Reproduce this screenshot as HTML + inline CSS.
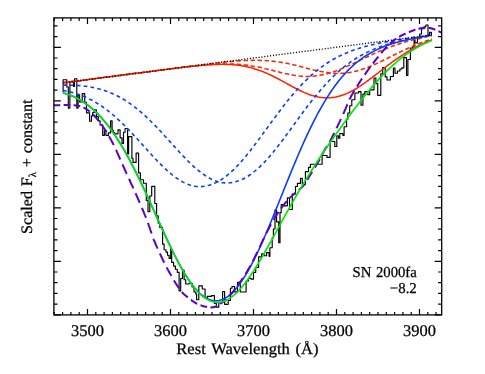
<!DOCTYPE html>
<html><head><meta charset="utf-8"><title>SN 2000fa</title>
<style>
html,body{margin:0;padding:0;background:#fff;}
svg{display:block;will-change:transform;font-family:"Liberation Serif",serif;font-size:16px;fill:#000;}
text{text-rendering:geometricPrecision;stroke:#000;stroke-width:0.25px;}
.c{fill:none;stroke-linejoin:round;}
</style></head><body>
<svg width="485" height="374" viewBox="0 0 485 374">
<rect width="485" height="374" fill="#fff"/>
<path class="c" d="M63.1 92.0 V79.7 H66.8 V87.0 H68.3 V108.1 H69.9 V81.8 H73.5 V86.4 H74.5 V78.7 H76.8 V108.1 H78.1 V95.2 H79.6 V101.9 H82.2 V93.6 H84.7 V102.2 H86.5 V112.8 H89.6 V121.2 H91.5 V115.8 H92.7 V112.5 H94.3 V109.7 H96.4 V116.5 H98.3 V120.8 H100.1 V125.0 H102.7 V135.3 H104.4 V130.4 H105.9 V135.3 H108.4 V132.9 H110.6 V120.7 H112.1 V130.4 H113.3 V132.5 H114.6 V133.8 H118.0 V129.8 H120.1 V137.8 H122.0 V143.4 H123.5 V132.2 H125.1 V128.5 H127.6 V153.9 H128.6 V136.6 H131.9 V158.2 H133.0 V162.4 H136.1 V153.1 H138.6 V172.9 H140.4 V179.7 H143.5 V183.2 H146.3 V200.4 H148.0 V211.6 H149.8 V196.0 H151.7 V186.3 H154.8 V203.5 H156.6 V215.9 H158.2 V223.2 H159.8 V227.4 H162.6 V244.1 H164.1 V249.7 H166.0 V252.1 H167.5 V255.2 H169.1 V258.3 H170.7 V249.0 H171.7 V262.4 H173.6 V266.1 H175.4 V269.2 H177.3 V272.3 H179.1 V290.8 H180.7 V278.5 H182.5 V270.4 H184.1 V279.7 H185.7 V284.0 H189.0 V283.2 H192.1 V287.0 H194.0 V292.0 H195.8 V294.0 H196.6 V299.7 H198.8 V285.9 H202.3 V289.0 H205.1 V298.0 H207.3 V296.4 H211.4 V295.6 H214.4 V303.5 H216.4 V307.1 H218.8 V302.2 H222.6 V291.5 H224.6 V304.3 H228.2 V300.5 H230.4 V288.2 H232.0 V286.5 H234.5 V291.8 H237.5 V282.4 H240.3 V292.0 H246.1 V281.0 H248.5 V278.3 H251.0 V279.1 H253.5 V272.5 H255.7 V267.5 H258.6 V256.9 H261.7 V253.8 H264.1 V255.7 H266.6 V252.6 H269.1 V256.3 H269.9 V247.7 H272.2 V237.8 H273.4 V229.0 H275.0 V210.1 H276.6 V221.9 H278.7 V242.7 H280.0 V212.6 H281.2 V204.6 H283.7 V205.8 H287.4 V197.8 H289.5 V209.5 H292.3 V194.0 H295.5 V186.5 H297.4 V183.4 H300.5 V178.4 H302.3 V184.6 H305.4 V171.6 H308.5 V167.3 H310.4 V164.2 H322.1 V155.5 H327.0 V157.4 H330.1 V141.5 H334.8 V146.5 H336.8 V135.9 H338.5 V138.2 H339.8 V133.5 H342.8 V135.3 H344.1 V126.7 H346.6 V119.2 H347.8 V113.0 H349.7 V105.7 H351.8 V99.7 H354.9 V93.0 H358.6 V91.6 H361.0 V105.2 H362.9 V94.1 H364.8 V91.6 H367.8 V94.7 H369.7 V89.8 H374.0 V78.0 H375.9 V83.6 H377.7 V95.3 H380.8 V73.7 H382.7 V67.5 H385.2 V76.8 H387.0 V80.0 H390.4 V76.5 H393.4 V68.0 H395.0 V73.2 H397.4 V71.0 H399.9 V69.0 H401.8 V67.8 H403.8 V57.6 H406.5 V75.3 H407.9 V59.5 H410.4 V48.0 H412.8 V46.6 H414.1 V39.5 H415.0 V42.9 H417.4 V38.6 H419.7 V34.0 H421.5 V28.7 H424.0 V26.8 H425.8 V25.0 H428.0 V34.9 H429.6 V32.4 H431.4 V35.5 H432.0" stroke="#000" stroke-width="1.15" stroke-linejoin="miter"/>
<path class="c" d="M63.0 82.8 L64.5 82.6 L66.0 82.4 L67.5 82.2 L69.0 82.0 L70.5 81.8 L72.0 81.6 L73.5 81.4 L75.0 81.2 L76.5 81.0 L78.0 80.9 L79.5 80.7 L81.0 80.5 L82.5 80.3 L84.0 80.1 L85.5 79.9 L87.0 79.7 L88.5 79.5 L90.0 79.3 L91.5 79.1 L93.0 78.9 L94.5 78.7 L96.0 78.5 L97.5 78.3 L99.0 78.1 L100.5 77.9 L102.0 77.7 L103.5 77.5 L105.0 77.3 L106.5 77.1 L108.0 77.0 L109.5 76.8 L111.0 76.6 L112.5 76.4 L114.0 76.2 L115.5 76.0 L117.0 75.8 L118.5 75.6 L120.0 75.4 L121.5 75.2 L123.0 75.0 L124.5 74.8 L126.0 74.6 L127.5 74.4 L129.0 74.2 L130.5 74.0 L132.0 73.8 L133.5 73.6 L135.0 73.4 L136.5 73.2 L138.0 73.1 L139.5 72.9 L141.0 72.7 L142.5 72.5 L144.0 72.3 L145.5 72.1 L147.0 71.9 L148.5 71.7 L150.0 71.5 L151.5 71.3 L153.0 71.1 L154.5 70.9 L156.0 70.7 L157.5 70.5 L159.0 70.3 L160.5 70.1 L162.0 69.9 L163.5 69.7 L165.0 69.5 L166.5 69.3 L168.0 69.2 L169.5 69.0 L171.0 68.8 L172.5 68.6 L174.0 68.4 L175.5 68.2 L177.0 68.0 L178.5 67.8 L180.0 67.6 L181.5 67.4 L183.0 67.2 L184.5 67.0 L186.0 66.8 L187.5 66.6 L189.0 66.4 L190.5 66.3 L192.0 66.1 L193.5 65.9 L195.0 65.7 L196.5 65.5 L198.0 65.3 L199.5 65.1 L201.0 64.9 L202.5 64.7 L204.0 64.6 L205.5 64.4 L207.0 64.2 L208.5 64.0 L210.0 63.8 L211.5 63.6 L213.0 63.5 L214.5 63.3 L216.0 63.1 L217.5 62.9 L219.0 62.8 L220.5 62.6 L222.0 62.5 L223.5 62.3 L225.0 62.1 L226.5 62.0 L228.0 61.8 L229.5 61.7 L231.0 61.6 L232.5 61.4 L234.0 61.3 L235.5 61.2 L237.0 61.1 L238.5 60.9 L240.0 60.8 L241.5 60.7 L243.0 60.7 L244.5 60.6 L246.0 60.5 L247.5 60.4 L249.0 60.4 L250.5 60.4 L252.0 60.3 L253.5 60.3 L255.0 60.3 L256.5 60.3 L258.0 60.3 L259.5 60.3 L261.0 60.4 L262.5 60.4 L264.0 60.5 L265.5 60.6 L267.0 60.7 L268.5 60.8 L270.0 60.9 L271.5 61.1 L273.0 61.2 L274.5 61.4 L276.0 61.6 L277.5 61.8 L279.0 62.0 L280.5 62.2 L282.0 62.5 L283.5 62.7 L285.0 63.0 L286.5 63.3 L288.0 63.6 L289.5 63.9 L291.0 64.3 L292.5 64.6 L294.0 64.9 L295.5 65.3 L297.0 65.7 L298.5 66.0 L300.0 66.4 L301.5 66.8 L303.0 67.2 L304.5 67.6 L306.0 68.0 L307.5 68.4 L309.0 68.8 L310.5 69.1 L312.0 69.5 L313.5 69.9 L315.0 70.2 L316.5 70.6 L318.0 70.9 L319.5 71.2 L321.0 71.6 L322.5 71.8 L324.0 72.1 L325.5 72.4 L327.0 72.6 L328.5 72.8 L330.0 73.0 L331.5 73.1 L333.0 73.2 L334.5 73.3 L336.0 73.4 L337.5 73.4 L339.0 73.4 L340.5 73.4 L342.0 73.3 L343.5 73.2 L345.0 73.1 L346.5 72.9 L348.0 72.7 L349.5 72.5 L351.0 72.2 L352.5 72.0 L354.0 71.6 L355.5 71.3 L357.0 70.9 L358.5 70.5 L360.0 70.0 L361.5 69.6 L363.0 69.1 L364.5 68.6 L366.0 68.0 L367.5 67.4 L369.0 66.8 L370.5 66.2 L372.0 65.6 L373.5 65.0 L375.0 64.3 L376.5 63.6 L378.0 62.9 L379.5 62.2 L381.0 61.5 L382.5 60.8 L384.0 60.0 L385.5 59.3 L387.0 58.5 L388.5 57.8 L390.0 57.0 L391.5 56.3 L393.0 55.5 L394.5 54.8 L396.0 54.0 L397.5 53.3 L399.0 52.5 L400.5 51.8 L402.0 51.1 L403.5 50.4 L405.0 49.7 L406.5 49.0 L408.0 48.3 L409.5 47.6 L411.0 46.9 L412.5 46.3 L414.0 45.6 L415.5 45.0 L417.0 44.4 L418.5 43.8 L420.0 43.2 L421.5 42.6 L423.0 42.1 L424.5 41.5 L426.0 41.0 L427.5 40.5 L429.0 40.0 L430.5 39.5 L432.0 39.0" stroke="#ff2200" stroke-width="1.55" stroke-dasharray="4.4 2.6"/>
<path class="c" d="M63.0 82.8 L64.5 82.6 L66.0 82.4 L67.5 82.2 L69.0 82.0 L70.5 81.8 L72.0 81.6 L73.5 81.4 L75.0 81.2 L76.5 81.0 L78.0 80.9 L79.5 80.7 L81.0 80.5 L82.5 80.3 L84.0 80.1 L85.5 79.9 L87.0 79.7 L88.5 79.5 L90.0 79.3 L91.5 79.1 L93.0 78.9 L94.5 78.7 L96.0 78.5 L97.5 78.3 L99.0 78.1 L100.5 77.9 L102.0 77.7 L103.5 77.5 L105.0 77.3 L106.5 77.1 L108.0 77.0 L109.5 76.8 L111.0 76.6 L112.5 76.4 L114.0 76.2 L115.5 76.0 L117.0 75.8 L118.5 75.6 L120.0 75.4 L121.5 75.2 L123.0 75.0 L124.5 74.8 L126.0 74.6 L127.5 74.4 L129.0 74.2 L130.5 74.0 L132.0 73.8 L133.5 73.6 L135.0 73.4 L136.5 73.2 L138.0 73.1 L139.5 72.9 L141.0 72.7 L142.5 72.5 L144.0 72.3 L145.5 72.1 L147.0 71.9 L148.5 71.7 L150.0 71.5 L151.5 71.3 L153.0 71.1 L154.5 70.9 L156.0 70.7 L157.5 70.5 L159.0 70.3 L160.5 70.1 L162.0 70.0 L163.5 69.8 L165.0 69.6 L166.5 69.4 L168.0 69.2 L169.5 69.0 L171.0 68.8 L172.5 68.6 L174.0 68.4 L175.5 68.2 L177.0 68.1 L178.5 67.9 L180.0 67.7 L181.5 67.5 L183.0 67.3 L184.5 67.2 L186.0 67.0 L187.5 66.8 L189.0 66.6 L190.5 66.5 L192.0 66.3 L193.5 66.1 L195.0 66.0 L196.5 65.8 L198.0 65.7 L199.5 65.5 L201.0 65.4 L202.5 65.2 L204.0 65.1 L205.5 65.0 L207.0 64.8 L208.5 64.7 L210.0 64.6 L211.5 64.5 L213.0 64.4 L214.5 64.3 L216.0 64.2 L217.5 64.2 L219.0 64.1 L220.5 64.1 L222.0 64.0 L223.5 64.0 L225.0 64.0 L226.5 63.9 L228.0 63.9 L229.5 64.0 L231.0 64.0 L232.5 64.0 L234.0 64.1 L235.5 64.2 L237.0 64.2 L238.5 64.3 L240.0 64.5 L241.5 64.6 L243.0 64.7 L244.5 64.9 L246.0 65.1 L247.5 65.3 L249.0 65.5 L250.5 65.7 L252.0 65.9 L253.5 66.2 L255.0 66.4 L256.5 66.7 L258.0 67.0 L259.5 67.3 L261.0 67.6 L262.5 68.0 L264.0 68.3 L265.5 68.7 L267.0 69.0 L268.5 69.4 L270.0 69.7 L271.5 70.1 L273.0 70.5 L274.5 70.9 L276.0 71.3 L277.5 71.6 L279.0 72.0 L280.5 72.4 L282.0 72.8 L283.5 73.1 L285.0 73.5 L286.5 73.8 L288.0 74.1 L289.5 74.5 L291.0 74.7 L292.5 75.0 L294.0 75.3 L295.5 75.5 L297.0 75.7 L298.5 75.9 L300.0 76.1 L301.5 76.2 L303.0 76.3 L304.5 76.4 L306.0 76.4 L307.5 76.5 L309.0 76.4 L310.5 76.4 L312.0 76.3 L313.5 76.2 L315.0 76.0 L316.5 75.8 L318.0 75.6 L319.5 75.4 L321.0 75.1 L322.5 74.8 L324.0 74.5 L325.5 74.1 L327.0 73.7 L328.5 73.3 L330.0 72.9 L331.5 72.4 L333.0 71.9 L334.5 71.4 L336.0 70.9 L337.5 70.3 L339.0 69.7 L340.5 69.1 L342.0 68.5 L343.5 67.9 L345.0 67.3 L346.5 66.6 L348.0 65.9 L349.5 65.3 L351.0 64.6 L352.5 63.9 L354.0 63.2 L355.5 62.5 L357.0 61.7 L358.5 61.0 L360.0 60.3 L361.5 59.6 L363.0 58.9 L364.5 58.2 L366.0 57.4 L367.5 56.7 L369.0 56.0 L370.5 55.3 L372.0 54.6 L373.5 53.9 L375.0 53.2 L376.5 52.6 L378.0 51.9 L379.5 51.3 L381.0 50.6 L382.5 50.0 L384.0 49.4 L385.5 48.8 L387.0 48.2 L388.5 47.6 L390.0 47.0 L391.5 46.5 L393.0 45.9 L394.5 45.4 L396.0 44.9 L397.5 44.4 L399.0 43.9 L400.5 43.4 L402.0 42.9 L403.5 42.5 L405.0 42.0 L406.5 41.6 L408.0 41.2 L409.5 40.8 L411.0 40.4 L412.5 40.0 L414.0 39.6 L415.5 39.2 L417.0 38.9 L418.5 38.5 L420.0 38.2 L421.5 37.9 L423.0 37.5 L424.5 37.2 L426.0 36.9 L427.5 36.6 L429.0 36.3 L430.5 36.0 L432.0 35.8" stroke="#ff2200" stroke-width="1.55" stroke-dasharray="4.4 2.6"/>
<path class="c" d="M63.0 82.8 L64.5 82.6 L66.0 82.4 L67.5 82.2 L69.0 82.0 L70.5 81.8 L72.0 81.6 L73.5 81.4 L75.0 81.2 L76.5 81.0 L78.0 80.9 L79.5 80.7 L81.0 80.5 L82.5 80.3 L84.0 80.1 L85.5 79.9 L87.0 79.7 L88.5 79.5 L90.0 79.3 L91.5 79.1 L93.0 78.9 L94.5 78.7 L96.0 78.5 L97.5 78.3 L99.0 78.1 L100.5 77.9 L102.0 77.7 L103.5 77.5 L105.0 77.3 L106.5 77.1 L108.0 77.0 L109.5 76.8 L111.0 76.6 L112.5 76.4 L114.0 76.2 L115.5 76.0 L117.0 75.8 L118.5 75.6 L120.0 75.4 L121.5 75.2 L123.0 75.0 L124.5 74.8 L126.0 74.6 L127.5 74.4 L129.0 74.2 L130.5 74.0 L132.0 73.8 L133.5 73.6 L135.0 73.4 L136.5 73.2 L138.0 73.1 L139.5 72.9 L141.0 72.7 L142.5 72.5 L144.0 72.3 L145.5 72.1 L147.0 71.9 L148.5 71.7 L150.0 71.5 L151.5 71.3 L153.0 71.1 L154.5 70.9 L156.0 70.7 L157.5 70.5 L159.0 70.3 L160.5 70.1 L162.0 70.0 L163.5 69.8 L165.0 69.6 L166.5 69.4 L168.0 69.2 L169.5 69.0 L171.0 68.8 L172.5 68.6 L174.0 68.4 L175.5 68.3 L177.0 68.1 L178.5 67.9 L180.0 67.7 L181.5 67.5 L183.0 67.3 L184.5 67.2 L186.0 67.0 L187.5 66.8 L189.0 66.7 L190.5 66.5 L192.0 66.3 L193.5 66.2 L195.0 66.0 L196.5 65.9 L198.0 65.7 L199.5 65.6 L201.0 65.4 L202.5 65.3 L204.0 65.2 L205.5 65.1 L207.0 64.9 L208.5 64.8 L210.0 64.7 L211.5 64.7 L213.0 64.6 L214.5 64.5 L216.0 64.4 L217.5 64.4 L219.0 64.4 L220.5 64.3 L222.0 64.3 L223.5 64.3 L225.0 64.4 L226.5 64.4 L228.0 64.4 L229.5 64.5 L231.0 64.6 L232.5 64.7 L234.0 64.8 L235.5 65.0 L237.0 65.1 L238.5 65.3 L240.0 65.5 L241.5 65.7 L243.0 66.0 L244.5 66.3 L246.0 66.6 L247.5 66.9 L249.0 67.2 L250.5 67.6 L252.0 68.0 L253.5 68.4 L255.0 68.9 L256.5 69.4 L258.0 69.9 L259.5 70.4 L261.0 71.0 L262.5 71.5 L264.0 72.1 L265.5 72.8 L267.0 73.4 L268.5 74.1 L270.0 74.8 L271.5 75.5 L273.0 76.2 L274.5 77.0 L276.0 77.7 L277.5 78.5 L279.0 79.3 L280.5 80.1 L282.0 80.9 L283.5 81.7 L285.0 82.6 L286.5 83.4 L288.0 84.2 L289.5 85.0 L291.0 85.8 L292.5 86.7 L294.0 87.5 L295.5 88.3 L297.0 89.0 L298.5 89.8 L300.0 90.5 L301.5 91.2 L303.0 91.9 L304.5 92.6 L306.0 93.2 L307.5 93.8 L309.0 94.4 L310.5 94.9 L312.0 95.4 L313.5 95.8 L315.0 96.2 L316.5 96.6 L318.0 96.9 L319.5 97.2 L321.0 97.4 L322.5 97.6 L324.0 97.7 L325.5 97.8 L327.0 97.8 L328.5 97.8 L330.0 97.7 L331.5 97.6 L333.0 97.5 L334.5 97.2 L336.0 97.0 L337.5 96.6 L339.0 96.3 L340.5 95.8 L342.0 95.3 L343.5 94.8 L345.0 94.2 L346.5 93.6 L348.0 92.9 L349.5 92.2 L351.0 91.5 L352.5 90.7 L354.0 89.8 L355.5 89.0 L357.0 88.1 L358.5 87.1 L360.0 86.2 L361.5 85.2 L363.0 84.1 L364.5 83.1 L366.0 82.0 L367.5 80.9 L369.0 79.8 L370.5 78.7 L372.0 77.6 L373.5 76.4 L375.0 75.3 L376.5 74.1 L378.0 73.0 L379.5 71.8 L381.0 70.7 L382.5 69.5 L384.0 68.3 L385.5 67.2 L387.0 66.0 L388.5 64.9 L390.0 63.8 L391.5 62.6 L393.0 61.5 L394.5 60.5 L396.0 59.4 L397.5 58.3 L399.0 57.3 L400.5 56.3 L402.0 55.3 L403.5 54.3 L405.0 53.3 L406.5 52.4 L408.0 51.5 L409.5 50.6 L411.0 49.7 L412.5 48.9 L414.0 48.1 L415.5 47.3 L417.0 46.5 L418.5 45.7 L420.0 45.0 L421.5 44.3 L423.0 43.6 L424.5 42.9 L426.0 42.3 L427.5 41.7 L429.0 41.1 L430.5 40.5 L432.0 39.9" stroke="#ff2200" stroke-width="1.55"/>
<path class="c" d="M63.0 90.4 L64.5 90.7 L66.0 91.0 L67.5 91.3 L69.0 91.6 L70.5 92.0 L72.0 92.4 L73.5 92.8 L75.0 93.2 L76.5 93.7 L78.0 94.2 L79.5 94.7 L81.0 95.3 L82.5 95.9 L84.0 96.5 L85.5 97.1 L87.0 97.8 L88.5 98.5 L90.0 99.3 L91.5 100.0 L93.0 100.8 L94.5 101.7 L96.0 102.6 L97.5 103.5 L99.0 104.4 L100.5 105.4 L102.0 106.4 L103.5 107.5 L105.0 108.6 L106.5 109.7 L108.0 110.8 L109.5 112.0 L111.0 113.2 L112.5 114.5 L114.0 115.7 L115.5 117.1 L117.0 118.4 L118.5 119.8 L120.0 121.2 L121.5 122.6 L123.0 124.1 L124.5 125.5 L126.0 127.0 L127.5 128.6 L129.0 130.1 L130.5 131.7 L132.0 133.3 L133.5 134.9 L135.0 136.5 L136.5 138.1 L138.0 139.8 L139.5 141.4 L141.0 143.1 L142.5 144.7 L144.0 146.4 L145.5 148.1 L147.0 149.7 L148.5 151.4 L150.0 153.0 L151.5 154.7 L153.0 156.3 L154.5 157.9 L156.0 159.5 L157.5 161.1 L159.0 162.6 L160.5 164.1 L162.0 165.6 L163.5 167.1 L165.0 168.5 L166.5 169.9 L168.0 171.2 L169.5 172.6 L171.0 173.8 L172.5 175.0 L174.0 176.2 L175.5 177.3 L177.0 178.4 L178.5 179.4 L180.0 180.4 L181.5 181.2 L183.0 182.1 L184.5 182.8 L186.0 183.5 L187.5 184.2 L189.0 184.7 L190.5 185.2 L192.0 185.6 L193.5 186.0 L195.0 186.3 L196.5 186.5 L198.0 186.6 L199.5 186.6 L201.0 186.6 L202.5 186.5 L204.0 186.3 L205.5 186.1 L207.0 185.8 L208.5 185.4 L210.0 185.0 L211.5 184.5 L213.0 183.9 L214.5 183.3 L216.0 182.6 L217.5 181.8 L219.0 181.0 L220.5 180.1 L222.0 179.2 L223.5 178.1 L225.0 177.1 L226.5 175.9 L228.0 174.7 L229.5 173.4 L231.0 172.1 L232.5 170.7 L234.0 169.3 L235.5 167.8 L237.0 166.2 L238.5 164.6 L240.0 163.0 L241.5 161.3 L243.0 159.6 L244.5 157.8 L246.0 156.0 L247.5 154.1 L249.0 152.3 L250.5 150.4 L252.0 148.4 L253.5 146.5 L255.0 144.5 L256.5 142.5 L258.0 140.5 L259.5 138.5 L261.0 136.4 L262.5 134.4 L264.0 132.3 L265.5 130.2 L267.0 128.2 L268.5 126.1 L270.0 124.1 L271.5 122.0 L273.0 120.0 L274.5 117.9 L276.0 115.9 L277.5 113.9 L279.0 111.9 L280.5 109.9 L282.0 108.0 L283.5 106.0 L285.0 104.1 L286.5 102.2 L288.0 100.3 L289.5 98.5 L291.0 96.7 L292.5 94.9 L294.0 93.2 L295.5 91.4 L297.0 89.8 L298.5 88.1 L300.0 86.5 L301.5 84.9 L303.0 83.3 L304.5 81.8 L306.0 80.3 L307.5 78.9 L309.0 77.5 L310.5 76.1 L312.0 74.7 L313.5 73.4 L315.0 72.2 L316.5 70.9 L318.0 69.7 L319.5 68.6 L321.0 67.4 L322.5 66.3 L324.0 65.3 L325.5 64.2 L327.0 63.2 L328.5 62.3 L330.0 61.3 L331.5 60.4 L333.0 59.5 L334.5 58.7 L336.0 57.9 L337.5 57.1 L339.0 56.3 L340.5 55.6 L342.0 54.9 L343.5 54.2 L345.0 53.5 L346.5 52.9 L348.0 52.3 L349.5 51.7 L351.0 51.1 L352.5 50.5 L354.0 50.0 L355.5 49.5 L357.0 49.0 L358.5 48.5 L360.0 48.0 L361.5 47.6 L363.0 47.1 L364.5 46.7 L366.0 46.3 L367.5 45.9 L369.0 45.5 L370.5 45.1 L372.0 44.8 L373.5 44.4 L375.0 44.1 L376.5 43.8 L378.0 43.4 L379.5 43.1 L381.0 42.8 L382.5 42.5 L384.0 42.2 L385.5 41.9 L387.0 41.7 L388.5 41.4 L390.0 41.1 L391.5 40.9 L393.0 40.6 L394.5 40.4 L396.0 40.1 L397.5 39.9 L399.0 39.6 L400.5 39.4 L402.0 39.1 L403.5 38.9 L405.0 38.7 L406.5 38.5 L408.0 38.2 L409.5 38.0 L411.0 37.8 L412.5 37.6 L414.0 37.4 L415.5 37.2 L417.0 36.9 L418.5 36.7 L420.0 36.5 L421.5 36.3 L423.0 36.1 L424.5 35.9 L426.0 35.7 L427.5 35.5 L429.0 35.3 L430.5 35.1 L432.0 34.9" stroke="#0a3cff" stroke-width="1.6" stroke-dasharray="3.7 3.2"/>
<path class="c" d="M63.0 85.2 L64.5 85.1 L66.0 85.1 L67.5 85.1 L69.0 85.1 L70.5 85.2 L72.0 85.2 L73.5 85.3 L75.0 85.3 L76.5 85.4 L78.0 85.5 L79.5 85.6 L81.0 85.7 L82.5 85.9 L84.0 86.1 L85.5 86.2 L87.0 86.4 L88.5 86.7 L90.0 86.9 L91.5 87.2 L93.0 87.5 L94.5 87.8 L96.0 88.1 L97.5 88.5 L99.0 88.9 L100.5 89.3 L102.0 89.7 L103.5 90.2 L105.0 90.7 L106.5 91.2 L108.0 91.8 L109.5 92.3 L111.0 93.0 L112.5 93.6 L114.0 94.3 L115.5 95.0 L117.0 95.7 L118.5 96.5 L120.0 97.3 L121.5 98.2 L123.0 99.0 L124.5 99.9 L126.0 100.9 L127.5 101.9 L129.0 102.9 L130.5 103.9 L132.0 105.0 L133.5 106.1 L135.0 107.3 L136.5 108.4 L138.0 109.7 L139.5 110.9 L141.0 112.2 L142.5 113.5 L144.0 114.8 L145.5 116.2 L147.0 117.6 L148.5 119.0 L150.0 120.5 L151.5 122.0 L153.0 123.5 L154.5 125.0 L156.0 126.5 L157.5 128.1 L159.0 129.7 L160.5 131.3 L162.0 132.9 L163.5 134.5 L165.0 136.2 L166.5 137.8 L168.0 139.5 L169.5 141.1 L171.0 142.8 L172.5 144.5 L174.0 146.1 L175.5 147.8 L177.0 149.4 L178.5 151.0 L180.0 152.7 L181.5 154.3 L183.0 155.9 L184.5 157.4 L186.0 159.0 L187.5 160.5 L189.0 162.0 L190.5 163.4 L192.0 164.9 L193.5 166.3 L195.0 167.6 L196.5 168.9 L198.0 170.2 L199.5 171.4 L201.0 172.6 L202.5 173.7 L204.0 174.7 L205.5 175.8 L207.0 176.7 L208.5 177.6 L210.0 178.4 L211.5 179.2 L213.0 179.9 L214.5 180.5 L216.0 181.1 L217.5 181.6 L219.0 182.0 L220.5 182.3 L222.0 182.6 L223.5 182.8 L225.0 182.9 L226.5 183.0 L228.0 182.9 L229.5 182.8 L231.0 182.7 L232.5 182.4 L234.0 182.1 L235.5 181.8 L237.0 181.3 L238.5 180.8 L240.0 180.3 L241.5 179.6 L243.0 179.0 L244.5 178.2 L246.0 177.4 L247.5 176.5 L249.0 175.5 L250.5 174.5 L252.0 173.4 L253.5 172.2 L255.0 171.0 L256.5 169.8 L258.0 168.4 L259.5 167.1 L261.0 165.6 L262.5 164.1 L264.0 162.6 L265.5 161.0 L267.0 159.3 L268.5 157.7 L270.0 155.9 L271.5 154.2 L273.0 152.4 L274.5 150.5 L276.0 148.6 L277.5 146.7 L279.0 144.8 L280.5 142.9 L282.0 140.9 L283.5 138.9 L285.0 136.9 L286.5 134.8 L288.0 132.8 L289.5 130.8 L291.0 128.7 L292.5 126.6 L294.0 124.6 L295.5 122.5 L297.0 120.5 L298.5 118.4 L300.0 116.4 L301.5 114.3 L303.0 112.3 L304.5 110.3 L306.0 108.3 L307.5 106.3 L309.0 104.4 L310.5 102.4 L312.0 100.5 L313.5 98.6 L315.0 96.8 L316.5 94.9 L318.0 93.1 L319.5 91.4 L321.0 89.6 L322.5 87.9 L324.0 86.2 L325.5 84.5 L327.0 82.9 L328.5 81.3 L330.0 79.8 L331.5 78.3 L333.0 76.8 L334.5 75.3 L336.0 73.9 L337.5 72.5 L339.0 71.2 L340.5 69.9 L342.0 68.6 L343.5 67.4 L345.0 66.2 L346.5 65.0 L348.0 63.9 L349.5 62.8 L351.0 61.7 L352.5 60.7 L354.0 59.7 L355.5 58.7 L357.0 57.8 L358.5 56.9 L360.0 56.0 L361.5 55.2 L363.0 54.4 L364.5 53.6 L366.0 52.8 L367.5 52.1 L369.0 51.4 L370.5 50.7 L372.0 50.0 L373.5 49.4 L375.0 48.7 L376.5 48.1 L378.0 47.6 L379.5 47.0 L381.0 46.5 L382.5 46.0 L384.0 45.5 L385.5 45.0 L387.0 44.5 L388.5 44.1 L390.0 43.6 L391.5 43.2 L393.0 42.8 L394.5 42.4 L396.0 42.0 L397.5 41.6 L399.0 41.3 L400.5 40.9 L402.0 40.6 L403.5 40.2 L405.0 39.9 L406.5 39.6 L408.0 39.3 L409.5 39.0 L411.0 38.7 L412.5 38.4 L414.0 38.2 L415.5 37.9 L417.0 37.6 L418.5 37.3 L420.0 37.1 L421.5 36.8 L423.0 36.6 L424.5 36.3 L426.0 36.1 L427.5 35.9 L429.0 35.6 L430.5 35.4 L432.0 35.2" stroke="#0a3cff" stroke-width="1.6" stroke-dasharray="3.7 3.2"/>
<path class="c" d="M63.0 92.8 L64.5 93.2 L66.0 93.7 L67.5 94.2 L69.0 94.8 L70.5 95.3 L72.0 96.0 L73.5 96.6 L75.0 97.3 L76.5 98.1 L78.0 98.9 L79.5 99.7 L81.0 100.6 L82.5 101.5 L84.0 102.5 L85.5 103.5 L87.0 104.6 L88.5 105.7 L90.0 106.9 L91.5 108.1 L93.0 109.4 L94.5 110.8 L96.0 112.2 L97.5 113.6 L99.0 115.2 L100.5 116.8 L102.0 118.4 L103.5 120.1 L105.0 121.9 L106.5 123.7 L108.0 125.6 L109.5 127.6 L111.0 129.6 L112.5 131.7 L114.0 133.9 L115.5 136.1 L117.0 138.4 L118.5 140.7 L120.0 143.1 L121.5 145.6 L123.0 148.1 L124.5 150.7 L126.0 153.3 L127.5 156.0 L129.0 158.8 L130.5 161.6 L132.0 164.5 L133.5 167.4 L135.0 170.3 L136.5 173.3 L138.0 176.4 L139.5 179.5 L141.0 182.6 L142.5 185.8 L144.0 189.0 L145.5 192.2 L147.0 195.5 L148.5 198.7 L150.0 202.0 L151.5 205.3 L153.0 208.7 L154.5 212.0 L156.0 215.3 L157.5 218.6 L159.0 222.0 L160.5 225.3 L162.0 228.6 L163.5 231.9 L165.0 235.1 L166.5 238.4 L168.0 241.6 L169.5 244.7 L171.0 247.9 L172.5 250.9 L174.0 254.0 L175.5 256.9 L177.0 259.8 L178.5 262.7 L180.0 265.4 L181.5 268.1 L183.0 270.7 L184.5 273.3 L186.0 275.7 L187.5 278.0 L189.0 280.3 L190.5 282.4 L192.0 284.5 L193.5 286.4 L195.0 288.2 L196.5 289.9 L198.0 291.5 L199.5 293.0 L201.0 294.3 L202.5 295.5 L204.0 296.6 L205.5 297.6 L207.0 298.4 L208.5 299.1 L210.0 299.7 L211.5 300.2 L213.0 300.5 L214.5 300.7 L216.0 300.8 L217.5 300.7 L219.0 300.5 L220.5 300.1 L222.0 299.6 L223.5 299.0 L225.0 298.2 L226.5 297.3 L228.0 296.3 L229.5 295.1 L231.0 293.8 L232.5 292.4 L234.0 290.8 L235.5 289.1 L237.0 287.4 L238.5 285.5 L240.0 283.5 L241.5 281.3 L243.0 279.1 L244.5 276.8 L246.0 274.3 L247.5 271.8 L249.0 269.2 L250.5 266.4 L252.0 263.6 L253.5 260.7 L255.0 257.7 L256.5 254.6 L258.0 251.5 L259.5 248.3 L261.0 245.0 L262.5 241.6 L264.0 238.2 L265.5 234.7 L267.0 231.2 L268.5 227.7 L270.0 224.1 L271.5 220.5 L273.0 216.8 L274.5 213.1 L276.0 209.4 L277.5 205.7 L279.0 202.0 L280.5 198.2 L282.0 194.5 L283.5 190.8 L285.0 187.0 L286.5 183.3 L288.0 179.6 L289.5 175.9 L291.0 172.2 L292.5 168.6 L294.0 165.0 L295.5 161.4 L297.0 157.8 L298.5 154.3 L300.0 150.9 L301.5 147.4 L303.0 144.0 L304.5 140.7 L306.0 137.4 L307.5 134.2 L309.0 131.0 L310.5 127.9 L312.0 124.8 L313.5 121.8 L315.0 118.9 L316.5 116.0 L318.0 113.2 L319.5 110.5 L321.0 107.8 L322.5 105.2 L324.0 102.6 L325.5 100.1 L327.0 97.7 L328.5 95.3 L330.0 93.0 L331.5 90.8 L333.0 88.6 L334.5 86.5 L336.0 84.5 L337.5 82.5 L339.0 80.6 L340.5 78.8 L342.0 77.0 L343.5 75.2 L345.0 73.6 L346.5 72.0 L348.0 70.4 L349.5 68.9 L351.0 67.5 L352.5 66.1 L354.0 64.7 L355.5 63.4 L357.0 62.2 L358.5 61.0 L360.0 59.9 L361.5 58.8 L363.0 57.7 L364.5 56.7 L366.0 55.7 L367.5 54.8 L369.0 53.9 L370.5 53.0 L372.0 52.2 L373.5 51.4 L375.0 50.6 L376.5 49.9 L378.0 49.2 L379.5 48.5 L381.0 47.8 L382.5 47.2 L384.0 46.6 L385.5 46.0 L387.0 45.5 L388.5 45.0 L390.0 44.5 L391.5 44.0 L393.0 43.5 L394.5 43.0 L396.0 42.6 L397.5 42.2 L399.0 41.8 L400.5 41.4 L402.0 41.0 L403.5 40.6 L405.0 40.3 L406.5 39.9 L408.0 39.6 L409.5 39.3 L411.0 39.0 L412.5 38.6 L414.0 38.4 L415.5 38.1 L417.0 37.8 L418.5 37.5 L420.0 37.2 L421.5 37.0 L423.0 36.7 L424.5 36.4 L426.0 36.2 L427.5 36.0 L429.0 35.7 L430.5 35.5 L432.0 35.2" stroke="#0a3cff" stroke-width="1.6"/>
<path class="c" d="M63.0 82.8 L64.5 82.6 L66.0 82.4 L67.5 82.2 L69.0 82.0 L70.5 81.8 L72.0 81.6 L73.5 81.4 L75.0 81.2 L76.5 81.0 L78.0 80.8 L79.5 80.7 L81.0 80.5 L82.5 80.3 L84.0 80.1 L85.5 79.9 L87.0 79.7 L88.5 79.5 L90.0 79.3 L91.5 79.1 L93.0 78.9 L94.5 78.7 L96.0 78.5 L97.5 78.3 L99.0 78.1 L100.5 77.9 L102.0 77.7 L103.5 77.5 L105.0 77.3 L106.5 77.1 L108.0 77.0 L109.5 76.8 L111.0 76.6 L112.5 76.4 L114.0 76.2 L115.5 76.0 L117.0 75.8 L118.5 75.6 L120.0 75.4 L121.5 75.2 L123.0 75.0 L124.5 74.8 L126.0 74.6 L127.5 74.4 L129.0 74.2 L130.5 74.0 L132.0 73.8 L133.5 73.6 L135.0 73.4 L136.5 73.2 L138.0 73.0 L139.5 72.9 L141.0 72.7 L142.5 72.5 L144.0 72.3 L145.5 72.1 L147.0 71.9 L148.5 71.7 L150.0 71.5 L151.5 71.3 L153.0 71.1 L154.5 70.9 L156.0 70.7 L157.5 70.5 L159.0 70.3 L160.5 70.1 L162.0 69.9 L163.5 69.7 L165.0 69.5 L166.5 69.3 L168.0 69.1 L169.5 69.0 L171.0 68.8 L172.5 68.6 L174.0 68.4 L175.5 68.2 L177.0 68.0 L178.5 67.8 L180.0 67.6 L181.5 67.4 L183.0 67.2 L184.5 67.0 L186.0 66.8 L187.5 66.6 L189.0 66.4 L190.5 66.2 L192.0 66.0 L193.5 65.8 L195.0 65.6 L196.5 65.4 L198.0 65.2 L199.5 65.1 L201.0 64.9 L202.5 64.7 L204.0 64.5 L205.5 64.3 L207.0 64.1 L208.5 63.9 L210.0 63.7 L211.5 63.5 L213.0 63.3 L214.5 63.1 L216.0 62.9 L217.5 62.7 L219.0 62.5 L220.5 62.3 L222.0 62.1 L223.5 61.9 L225.0 61.7 L226.5 61.5 L228.0 61.3 L229.5 61.2 L231.0 61.0 L232.5 60.8 L234.0 60.6 L235.5 60.4 L237.0 60.2 L238.5 60.0 L240.0 59.8 L241.5 59.6 L243.0 59.4 L244.5 59.2 L246.0 59.0 L247.5 58.8 L249.0 58.6 L250.5 58.4 L252.0 58.2 L253.5 58.0 L255.0 57.8 L256.5 57.6 L258.0 57.4 L259.5 57.3 L261.0 57.1 L262.5 56.9 L264.0 56.7 L265.5 56.5 L267.0 56.3 L268.5 56.1 L270.0 55.9 L271.5 55.7 L273.0 55.5 L274.5 55.3 L276.0 55.1 L277.5 54.9 L279.0 54.7 L280.5 54.5 L282.0 54.3 L283.5 54.1 L285.0 53.9 L286.5 53.7 L288.0 53.5 L289.5 53.4 L291.0 53.2 L292.5 53.0 L294.0 52.8 L295.5 52.6 L297.0 52.4 L298.5 52.2 L300.0 52.0 L301.5 51.8 L303.0 51.6 L304.5 51.4 L306.0 51.2 L307.5 51.0 L309.0 50.8 L310.5 50.6 L312.0 50.4 L313.5 50.2 L315.0 50.0 L316.5 49.8 L318.0 49.6 L319.5 49.5 L321.0 49.3 L322.5 49.1 L324.0 48.9 L325.5 48.7 L327.0 48.5 L328.5 48.3 L330.0 48.1 L331.5 47.9 L333.0 47.7 L334.5 47.5 L336.0 47.3 L337.5 47.1 L339.0 46.9 L340.5 46.7 L342.0 46.5 L343.5 46.3 L345.0 46.1 L346.5 45.9 L348.0 45.7 L349.5 45.6 L351.0 45.4 L352.5 45.2 L354.0 45.0 L355.5 44.8 L357.0 44.6 L358.5 44.4 L360.0 44.2 L361.5 44.0 L363.0 43.8 L364.5 43.6 L366.0 43.4 L367.5 43.2 L369.0 43.0 L370.5 42.8 L372.0 42.6 L373.5 42.4 L375.0 42.2 L376.5 42.0 L378.0 41.8 L379.5 41.7 L381.0 41.5 L382.5 41.3 L384.0 41.1 L385.5 40.9 L387.0 40.7 L388.5 40.5 L390.0 40.3 L391.5 40.1 L393.0 39.9 L394.5 39.7 L396.0 39.5 L397.5 39.3 L399.0 39.1 L400.5 38.9 L402.0 38.7 L403.5 38.5 L405.0 38.3 L406.5 38.1 L408.0 37.9 L409.5 37.8 L411.0 37.6 L412.5 37.4 L414.0 37.2 L415.5 37.0 L417.0 36.8 L418.5 36.6 L420.0 36.4 L421.5 36.2 L423.0 36.0 L424.5 35.8 L426.0 35.6 L427.5 35.4 L429.0 35.2 L430.5 35.0 L432.0 34.8" stroke="#000" stroke-width="1.35" stroke-dasharray="1.1 1.8"/>
<path class="c" d="M53.9 105.3 L54.2 105.3 L54.5 105.3 L54.8 105.3 L55.2 105.3 L55.6 105.3 L56.0 105.3 L56.4 105.2 L56.9 105.2 L57.4 105.2 L57.9 105.2 L58.4 105.2 L58.9 105.2 L59.5 105.2 L60.0 105.1 L60.2 105.1 M63.6 105.0 L64.2 105.0 L64.8 105.0 L65.4 105.0 L66.1 105.0 L66.7 105.0 L67.3 105.0 L67.9 105.0 L68.5 105.0 L69.1 105.0 L69.7 105.0 L70.2 105.0 M73.6 105.2 L73.9 105.2 L74.4 105.3 L74.8 105.3 L75.2 105.4 L75.6 105.4 L76.0 105.5 L76.4 105.5 L76.7 105.6 L77.1 105.6 L77.4 105.7 L77.8 105.7 L78.1 105.8 L78.5 105.9 L78.8 105.9 L79.1 106.0 L79.4 106.1 L79.7 106.1 L80.0 106.2 L80.2 106.3 M83.5 107.5 L83.6 107.5 L83.9 107.6 L84.1 107.8 L84.4 107.9 L84.7 108.1 L85.0 108.2 L85.2 108.4 L85.5 108.6 L85.8 108.7 L86.1 108.9 L86.4 109.1 L86.7 109.3 L87.0 109.5 L87.3 109.7 L87.6 109.9 L87.9 110.1 L88.2 110.4 L88.5 110.6 L88.9 110.8 L89.2 111.1 L89.5 111.3 L89.7 111.6 M92.8 114.3 L92.9 114.4 L93.2 114.7 L93.5 115.0 L93.9 115.4 L94.2 115.7 L94.5 116.0 L94.8 116.3 L95.1 116.7 L95.4 117.0 L95.7 117.4 L96.1 117.7 L96.4 118.1 L96.7 118.4 L97.0 118.8 L97.3 119.2 L97.6 119.6 L97.9 119.9 L98.2 120.3 L98.5 120.6 M101.3 124.3 L101.4 124.4 L101.7 124.8 L102.0 125.3 L102.3 125.7 L102.6 126.1 L102.9 126.6 L103.2 127.0 L103.6 127.5 L103.9 128.0 L104.2 128.4 L104.5 128.9 L104.8 129.4 L105.1 129.9 L105.4 130.3 L105.7 130.8 L106.0 131.3 L106.4 131.8 L106.5 132.1 M109.0 136.3 L109.2 136.6 L109.5 137.1 L109.8 137.7 L110.1 138.2 L110.4 138.8 L110.7 139.4 L111.1 139.9 L111.4 140.5 L111.7 141.1 L112.0 141.7 L112.3 142.3 L112.6 142.9 L113.0 143.5 L113.3 144.2 L113.6 144.8 L113.7 145.1 M116.0 149.9 L116.2 150.2 L116.5 150.9 L116.8 151.6 L117.1 152.3 L117.4 153.0 L117.8 153.7 L118.1 154.5 L118.4 155.2 L118.7 155.9 L119.1 156.6 L119.4 157.4 L119.7 158.1 L120.0 158.8 L120.3 159.5 M122.5 164.4 L122.6 164.7 L122.9 165.4 L123.2 166.1 L123.5 166.8 L123.9 167.5 L124.2 168.2 L124.5 168.9 L124.8 169.6 L125.1 170.3 L125.4 171.0 L125.7 171.7 L126.1 172.4 L126.4 173.1 L126.7 173.8 L126.8 173.9 M129.0 178.8 L129.2 179.3 L129.6 180.0 L129.9 180.7 L130.2 181.4 L130.5 182.1 L130.8 182.8 L131.1 183.5 L131.4 184.2 L131.8 184.9 L132.1 185.5 L132.4 186.2 L132.7 186.9 L133.0 187.6 L133.3 188.3 L133.3 188.3 M135.5 193.2 L135.7 193.6 L136.0 194.2 L136.3 194.9 L136.5 195.5 L136.8 196.2 L137.1 196.8 L137.4 197.4 L137.7 198.1 L137.9 198.7 L138.2 199.3 L138.5 199.9 L138.7 200.5 L139.0 201.2 L139.3 201.8 L139.5 202.4 L139.7 202.9 M141.9 207.9 L142.1 208.3 L142.3 208.9 L142.6 209.5 L142.8 210.0 L143.1 210.6 L143.3 211.2 L143.5 211.8 L143.8 212.3 L144.0 212.9 L144.3 213.5 L144.5 214.1 L144.7 214.6 L145.0 215.2 L145.2 215.8 L145.4 216.3 L145.7 216.9 L145.9 217.5 L146.0 217.7 M148.0 222.9 L148.0 223.1 L148.2 223.6 L148.4 224.2 L148.6 224.7 L148.8 225.3 L149.0 225.8 L149.2 226.3 L149.4 226.9 L149.5 227.4 L149.7 227.9 L149.9 228.4 L150.1 229.0 L150.2 229.5 L150.4 230.0 L150.6 230.6 L150.7 231.1 L150.9 231.6 L151.1 232.2 L151.3 232.7 L151.5 233.2 L151.6 233.5 M153.5 238.8 L153.6 239.3 L153.8 239.9 L154.1 240.4 L154.3 241.0 L154.6 241.6 L154.8 242.2 L155.1 242.8 L155.3 243.4 L155.6 244.0 L155.8 244.7 L156.1 245.3 L156.4 245.9 L156.7 246.6 L157.0 247.2 L157.3 247.9 L157.6 248.5 L157.6 248.6 M159.8 253.5 L160.0 253.9 L160.3 254.6 L160.7 255.3 L161.0 255.9 L161.3 256.6 L161.6 257.3 L162.0 258.0 L162.3 258.7 L162.6 259.3 L162.9 260.0 L163.3 260.7 L163.6 261.3 L163.9 262.0 L164.2 262.6 L164.3 262.7 M166.7 267.4 L166.8 267.6 L167.1 268.2 L167.4 268.8 L167.7 269.4 L168.0 270.0 L168.4 270.5 L168.7 271.1 L169.0 271.7 L169.3 272.3 L169.6 272.9 L170.0 273.5 L170.3 274.1 L170.6 274.6 L171.0 275.2 L171.3 275.8 L171.4 276.0 M174.0 280.3 L174.2 280.8 L174.5 281.3 L174.9 281.9 L175.2 282.4 L175.5 282.9 L175.8 283.4 L176.1 283.9 L176.4 284.3 L176.7 284.8 L177.0 285.3 L177.3 285.7 L177.6 286.2 L177.9 286.6 L178.2 287.0 L178.4 287.5 L178.7 287.9 L179.0 288.3 L179.0 288.3 M181.8 292.0 L182.0 292.2 L182.2 292.4 L182.4 292.6 L182.5 292.8 L182.7 293.0 L182.9 293.2 L183.1 293.4 L183.3 293.6 L183.5 293.8 L183.7 293.9 L183.8 294.1 L184.0 294.2 L184.2 294.4 L184.4 294.6 L184.5 294.7 L184.7 294.9 L184.9 295.0 L185.1 295.2 L185.2 295.3 L185.4 295.4 L185.6 295.6 L185.8 295.7 L186.0 295.9 L186.1 296.0 L186.3 296.2 L186.5 296.3 L186.7 296.5 L186.9 296.7 L187.1 296.8 L187.3 297.0 L187.5 297.2 L187.7 297.3 L187.8 297.4 M190.9 299.9 L190.9 299.9 L191.2 300.0 L191.4 300.2 L191.6 300.3 L191.8 300.5 L192.0 300.6 L192.2 300.8 L192.5 300.9 L192.7 301.1 L192.9 301.2 L193.1 301.4 L193.3 301.5 L193.5 301.6 L193.7 301.8 L193.9 301.9 L194.1 302.0 L194.3 302.2 L194.5 302.3 L194.7 302.4 L194.9 302.5 L195.1 302.7 L195.3 302.8 L195.5 302.9 L195.7 303.0 L195.9 303.1 L196.1 303.2 L196.2 303.3 L196.4 303.4 L196.6 303.5 L196.8 303.6 L196.9 303.7 L197.1 303.8 L197.2 303.8 M200.5 305.3 L200.6 305.3 L200.7 305.3 L200.9 305.4 L201.0 305.4 L201.2 305.5 L201.3 305.5 L201.5 305.6 L201.6 305.6 L201.8 305.7 L201.9 305.7 L202.1 305.8 L202.3 305.9 L202.4 305.9 L202.6 305.9 L202.7 306.0 L202.9 306.0 L203.0 306.1 L203.2 306.1 L203.3 306.2 L203.5 306.2 L203.6 306.3 L203.8 306.3 L203.9 306.3 L204.1 306.4 L204.3 306.4 L204.4 306.4 L204.6 306.5 L204.7 306.5 L204.9 306.5 L205.0 306.6 L205.2 306.6 L205.3 306.6 L205.5 306.7 L205.6 306.7 L205.8 306.7 L205.9 306.8 L206.1 306.8 L206.2 306.8 L206.3 306.8 L206.5 306.9 L206.6 306.9 L206.8 306.9 L206.9 306.9 L207.0 307.0 M210.4 307.4 L210.5 307.4 L210.7 307.4 L210.8 307.4 L210.9 307.4 L211.0 307.4 L211.1 307.4 L211.2 307.4 L211.3 307.4 L211.4 307.4 L211.5 307.4 L211.6 307.4 L211.7 307.4 L211.9 307.4 L212.0 307.4 L212.1 307.3 L212.2 307.3 L212.3 307.3 L212.4 307.3 L212.5 307.3 L212.6 307.3 L212.7 307.3 L212.8 307.3 L212.9 307.3 L213.0 307.2 L213.1 307.2 L213.2 307.2 L213.3 307.2 L213.4 307.2 L213.5 307.2 L213.6 307.1 L213.7 307.1 L213.8 307.1 L213.9 307.1 L214.0 307.1 L214.1 307.0 L214.2 307.0 L214.3 307.0 L214.4 307.0 L214.5 306.9 L214.6 306.9 L214.7 306.9 L214.8 306.8 L214.9 306.8 L215.0 306.8 L215.1 306.8 L215.2 306.7 L215.3 306.7 L215.4 306.7 L215.5 306.6 L215.6 306.6 L215.7 306.5 L215.8 306.5 L215.9 306.5 L215.9 306.4 L216.0 306.4 L216.1 306.4 L216.2 306.3 L216.3 306.3 L216.4 306.2 L216.5 306.2 L216.6 306.2 L216.7 306.1 L216.8 306.1 L216.8 306.0 L216.9 306.0 L217.0 306.0 M220.2 303.9 L220.3 303.8 L220.5 303.6 L220.7 303.5 L220.8 303.4 L221.0 303.3 L221.2 303.1 L221.4 303.0 L221.6 302.9 L221.8 302.7 L222.0 302.6 L222.2 302.5 L222.4 302.3 L222.6 302.2 L222.8 302.0 L223.0 301.9 L223.3 301.7 L223.5 301.6 L223.7 301.4 L223.9 301.2 L224.2 301.1 L224.4 300.9 L224.7 300.7 L224.9 300.5 L225.1 300.3 L225.4 300.1 L225.6 299.9 L225.9 299.7 L226.1 299.5 L226.3 299.3 M229.3 296.3 L229.5 296.1 L229.8 295.8 L230.1 295.4 L230.4 295.1 L230.7 294.7 L231.0 294.3 L231.3 293.9 L231.6 293.6 L231.9 293.2 L232.3 292.8 L232.6 292.3 L232.9 291.9 L233.2 291.5 L233.6 291.1 L233.9 290.6 L234.2 290.2 L234.6 289.8 L234.8 289.4 M237.6 285.6 L237.9 285.2 L238.2 284.8 L238.5 284.4 L238.8 283.9 L239.1 283.5 L239.4 283.0 L239.7 282.6 L240.0 282.2 L240.3 281.8 L240.6 281.4 L240.9 281.0 L241.1 280.6 L241.4 280.2 L241.7 279.8 L241.9 279.5 L242.2 279.1 L242.4 278.7 L242.7 278.4 L242.9 278.1 M245.5 274.0 L245.6 273.9 L245.8 273.6 L246.0 273.2 L246.2 272.9 L246.4 272.6 L246.6 272.3 L246.8 271.9 L247.0 271.6 L247.2 271.3 L247.4 270.9 L247.6 270.6 L247.8 270.3 L248.0 269.9 L248.2 269.6 L248.4 269.2 L248.6 268.9 L248.8 268.5 L249.0 268.2 L249.2 267.8 L249.4 267.5 L249.6 267.1 L249.8 266.8 L250.0 266.4 L250.2 266.0 L250.4 265.7 L250.4 265.6 M252.8 261.1 L252.9 261.1 L253.1 260.7 L253.3 260.3 L253.5 259.9 L253.7 259.6 L253.9 259.2 L254.1 258.8 L254.3 258.4 L254.5 258.0 L254.7 257.6 L254.9 257.2 L255.0 256.8 L255.2 256.4 L255.4 256.0 L255.6 255.6 L255.8 255.2 L256.0 254.8 L256.2 254.4 L256.4 254.0 L256.6 253.6 L256.8 253.2 L257.0 252.8 L257.2 252.4 L257.4 252.0 M259.7 247.2 L259.7 247.2 L259.9 246.7 L260.1 246.3 L260.3 245.9 L260.5 245.5 L260.7 245.1 L260.8 244.7 L261.0 244.3 L261.2 243.9 L261.4 243.5 L261.6 243.0 L261.8 242.6 L262.0 242.2 L262.1 241.8 L262.3 241.4 L262.5 241.0 L262.7 240.6 L262.9 240.1 L263.1 239.7 L263.3 239.3 L263.5 238.9 L263.7 238.5 L263.9 238.1 L264.0 237.8 M266.3 233.1 L266.4 233.0 L266.6 232.6 L266.8 232.2 L267.0 231.7 L267.3 231.3 L267.5 230.8 L267.7 230.4 L268.0 229.9 L268.2 229.5 L268.5 229.0 L268.7 228.6 L269.0 228.1 L269.2 227.6 L269.4 227.2 L269.7 226.7 L269.9 226.3 L270.2 225.8 L270.4 225.4 L270.7 224.9 L270.9 224.5 L271.0 224.3 M273.5 219.9 L273.8 219.5 L274.0 219.1 L274.2 218.8 L274.4 218.4 L274.6 218.1 L274.8 217.7 L275.0 217.4 L275.2 217.1 L275.4 216.8 L275.6 216.5 L275.8 216.2 L276.0 215.9 L276.1 215.6 L276.3 215.3 L276.5 215.0 L276.7 214.7 L276.9 214.5 L277.0 214.2 L277.2 213.9 L277.4 213.7 L277.6 213.4 L277.7 213.2 L277.9 212.9 L278.1 212.7 L278.2 212.5 L278.4 212.3 L278.6 212.0 L278.6 211.9 M281.4 208.2 L281.4 208.1 L281.5 208.0 L281.6 207.9 L281.7 207.7 L281.8 207.6 L281.9 207.5 L282.0 207.3 L282.0 207.2 L282.1 207.1 L282.2 207.0 L282.2 206.9 L282.3 206.8 L282.4 206.8 L282.4 206.7 L282.5 206.6 L282.5 206.5 L282.6 206.4 L282.6 206.4 L282.7 206.3 L282.7 206.2 L282.8 206.1 L282.8 206.1 L282.9 206.0 L282.9 205.9 L283.0 205.9 L283.0 205.8 L283.1 205.7 L283.1 205.6 L283.2 205.6 L283.2 205.5 L283.3 205.4 L283.4 205.3 L283.4 205.2 L283.5 205.1 L283.6 205.0 L283.6 204.9 L283.7 204.8 L283.8 204.7 L283.9 204.6 L284.0 204.5 L284.1 204.4 L284.2 204.2 L284.3 204.1 L284.4 204.0 L284.5 203.8 L284.7 203.7 L284.8 203.5 L284.9 203.4 L285.0 203.2 L285.2 203.1 L285.3 202.9 L285.4 202.8 L285.6 202.6 L285.7 202.5 L285.8 202.3 L286.0 202.1 L286.1 202.0 L286.2 201.8 L286.4 201.7 L286.5 201.5 L286.7 201.3 L286.8 201.2 L286.8 201.1 M289.8 197.9 L289.8 197.9 L289.9 197.8 L290.0 197.6 L290.2 197.5 L290.3 197.4 L290.4 197.3 L290.5 197.2 L290.6 197.1 L290.7 196.9 L290.9 196.8 L291.0 196.7 L291.1 196.6 L291.2 196.5 L291.3 196.4 L291.4 196.3 L291.6 196.2 L291.7 196.1 L291.8 196.0 L291.9 195.9 L292.0 195.8 L292.1 195.7 L292.2 195.6 L292.4 195.5 L292.5 195.4 L292.6 195.3 L292.7 195.1 L292.8 195.0 L292.9 194.9 L293.1 194.8 L293.2 194.7 L293.3 194.6 L293.4 194.5 L293.5 194.4 L293.6 194.3 L293.8 194.2 L293.9 194.1 L294.0 194.0 L294.1 193.9 L294.2 193.8 L294.4 193.7 L294.5 193.6 L294.6 193.5 L294.7 193.4 L294.9 193.3 L295.0 193.2 L295.1 193.1 L295.2 193.0 L295.4 192.9 L295.5 192.8 L295.6 192.7 L295.7 192.6 L295.8 192.5 M298.9 189.9 L298.9 189.9 L299.0 189.8 L299.1 189.7 L299.3 189.6 L299.4 189.5 L299.5 189.4 L299.6 189.2 L299.7 189.1 L299.9 189.0 L300.0 188.9 L300.1 188.8 L300.2 188.7 L300.4 188.6 L300.5 188.5 L300.6 188.4 L300.7 188.3 L300.8 188.2 L301.0 188.1 L301.1 188.0 L301.2 187.9 L301.3 187.8 L301.4 187.6 L301.6 187.5 L301.7 187.4 L301.8 187.3 L301.9 187.2 L302.1 187.0 L302.2 186.9 L302.3 186.8 L302.5 186.7 L302.6 186.5 L302.7 186.4 L302.8 186.2 L303.0 186.1 L303.1 185.9 L303.3 185.8 L303.4 185.6 L303.5 185.4 L303.7 185.3 L303.8 185.1 L304.0 184.9 L304.1 184.7 L304.2 184.5 L304.4 184.3 L304.6 184.1 L304.6 183.9 M307.3 179.8 L307.4 179.6 L307.6 179.3 L307.8 179.0 L308.0 178.7 L308.1 178.4 L308.3 178.2 L308.5 177.9 L308.6 177.6 L308.8 177.3 L309.0 177.0 L309.1 176.7 L309.3 176.5 L309.5 176.2 L309.6 175.9 L309.8 175.7 L310.0 175.4 L310.1 175.2 L310.3 174.9 L310.4 174.7 L310.6 174.4 L310.7 174.2 L310.8 174.0 L311.0 173.8 L311.1 173.5 L311.2 173.3 L311.4 173.1 L311.5 172.9 L311.6 172.7 L311.8 172.5 L311.9 172.3 L312.0 172.1 L312.1 171.9 L312.3 171.7 L312.3 171.7 M314.9 167.5 L314.9 167.5 L315.1 167.3 L315.2 167.1 L315.3 166.9 L315.4 166.7 L315.5 166.5 L315.6 166.3 L315.7 166.1 L315.9 165.9 L316.0 165.7 L316.1 165.5 L316.2 165.3 L316.3 165.1 L316.5 164.9 L316.6 164.7 L316.7 164.6 L316.8 164.4 L316.9 164.2 L317.0 164.0 L317.2 163.8 L317.3 163.6 L317.4 163.4 L317.5 163.2 L317.6 163.0 L317.7 162.8 L317.9 162.6 L318.0 162.4 L318.1 162.2 L318.2 162.0 L318.3 161.8 L318.4 161.6 L318.6 161.4 L318.7 161.2 L318.8 161.0 L318.9 160.8 L319.0 160.6 L319.1 160.4 L319.2 160.2 L319.3 160.0 L319.5 159.8 L319.6 159.6 L319.7 159.4 L319.8 159.2 L319.8 159.2 M322.2 154.5 L322.2 154.4 L322.3 154.2 L322.4 154.0 L322.5 153.8 L322.6 153.6 L322.7 153.4 L322.8 153.2 L323.0 153.0 L323.1 152.8 L323.2 152.6 L323.3 152.3 L323.4 152.1 L323.6 151.9 L323.7 151.6 L323.9 151.4 L324.0 151.1 L324.2 150.8 L324.3 150.6 L324.5 150.3 L324.6 150.0 L324.8 149.8 L324.9 149.5 L325.1 149.2 L325.3 148.9 L325.5 148.6 L325.6 148.4 L325.8 148.1 L326.0 147.8 L326.2 147.5 L326.3 147.2 L326.5 146.9 L326.7 146.6 L326.9 146.3 L327.0 146.1 M329.6 141.8 L329.6 141.8 L329.8 141.4 L330.1 141.0 L330.3 140.6 L330.5 140.2 L330.7 139.8 L331.0 139.4 L331.2 138.9 L331.4 138.5 L331.7 138.1 L331.9 137.6 L332.1 137.1 L332.4 136.7 L332.6 136.2 L332.9 135.6 L333.2 135.1 L333.4 134.6 L333.7 134.0 L334.0 133.5 L334.3 132.9 M336.6 128.2 L336.6 128.1 L336.9 127.5 L337.2 126.8 L337.5 126.2 L337.8 125.6 L338.1 124.9 L338.4 124.3 L338.7 123.7 L339.0 123.1 L339.3 122.4 L339.6 121.8 L339.9 121.2 L340.2 120.6 L340.4 120.0 L340.7 119.4 L341.0 118.9 M343.2 114.0 L343.2 114.0 L343.4 113.5 L343.7 113.1 L343.9 112.6 L344.1 112.1 L344.3 111.7 L344.5 111.2 L344.6 110.8 L344.8 110.4 L345.0 109.9 L345.2 109.5 L345.4 109.1 L345.5 108.7 L345.7 108.3 L345.9 107.9 L346.0 107.5 L346.2 107.1 L346.4 106.7 L346.5 106.3 L346.7 105.9 L346.9 105.5 L347.0 105.1 L347.2 104.8 L347.3 104.4 L347.4 104.3 M349.6 99.4 L349.6 99.2 L349.8 98.9 L350.0 98.5 L350.2 98.1 L350.4 97.8 L350.6 97.4 L350.8 97.0 L351.0 96.7 L351.1 96.3 L351.3 95.9 L351.5 95.6 L351.7 95.2 L351.9 94.9 L352.1 94.5 L352.3 94.2 L352.5 93.8 L352.7 93.5 L352.9 93.1 L353.1 92.8 L353.3 92.4 L353.5 92.1 L353.7 91.7 L353.9 91.4 L354.1 91.1 L354.3 90.7 L354.4 90.7 M356.9 86.5 L357.0 86.4 L357.2 86.1 L357.4 85.8 L357.6 85.4 L357.8 85.1 L358.0 84.8 L358.2 84.5 L358.4 84.2 L358.6 83.8 L358.8 83.5 L359.0 83.2 L359.2 82.9 L359.4 82.5 L359.6 82.2 L359.9 81.9 L360.1 81.6 L360.3 81.2 L360.5 80.9 L360.7 80.6 L360.9 80.3 L361.1 80.0 L361.3 79.7 L361.5 79.3 L361.8 79.0 L362.0 78.7 L362.1 78.6 M364.7 74.7 L364.8 74.6 L365.0 74.3 L365.2 74.0 L365.4 73.7 L365.6 73.5 L365.7 73.2 L365.9 73.0 L366.1 72.7 L366.3 72.4 L366.4 72.2 L366.6 72.0 L366.8 71.7 L366.9 71.5 L367.1 71.3 L367.3 71.0 L367.4 70.8 L367.6 70.6 L367.7 70.4 L367.9 70.2 L368.0 70.0 L368.2 69.7 L368.3 69.5 L368.4 69.3 L368.6 69.1 L368.7 68.9 L368.9 68.7 L369.0 68.5 L369.1 68.4 L369.3 68.2 L369.4 68.0 L369.6 67.8 L369.7 67.6 L369.8 67.4 L370.0 67.2 L370.0 67.1 M372.8 63.4 L373.0 63.3 L373.1 63.1 L373.3 62.8 L373.4 62.6 L373.6 62.4 L373.8 62.2 L373.9 62.0 L374.1 61.8 L374.3 61.6 L374.4 61.4 L374.6 61.2 L374.8 61.0 L375.0 60.8 L375.1 60.6 L375.3 60.3 L375.5 60.1 L375.6 59.9 L375.8 59.7 L376.0 59.5 L376.1 59.3 L376.3 59.1 L376.5 58.9 L376.6 58.7 L376.8 58.5 L377.0 58.3 L377.1 58.1 L377.3 57.9 L377.5 57.7 L377.6 57.5 L377.8 57.3 L378.0 57.1 L378.1 56.9 L378.3 56.7 L378.4 56.6 M381.2 53.1 L381.2 53.1 L381.4 52.9 L381.5 52.7 L381.7 52.5 L381.8 52.3 L382.0 52.2 L382.1 52.0 L382.3 51.8 L382.4 51.6 L382.6 51.4 L382.7 51.3 L382.9 51.1 L383.0 50.9 L383.2 50.7 L383.3 50.6 L383.5 50.4 L383.6 50.2 L383.8 50.0 L383.9 49.9 L384.1 49.7 L384.2 49.5 L384.4 49.3 L384.5 49.2 L384.7 49.0 L384.9 48.8 L385.0 48.7 L385.2 48.5 L385.3 48.3 L385.5 48.2 L385.6 48.0 L385.8 47.8 L385.9 47.7 L386.1 47.5 L386.2 47.3 L386.4 47.2 L386.6 47.0 L386.7 46.9 L386.9 46.7 L386.9 46.7 M389.9 43.7 L390.0 43.6 L390.1 43.5 L390.3 43.4 L390.4 43.2 L390.6 43.1 L390.7 42.9 L390.9 42.8 L391.1 42.7 L391.2 42.5 L391.4 42.4 L391.5 42.3 L391.7 42.1 L391.8 42.0 L392.0 41.9 L392.1 41.7 L392.3 41.6 L392.4 41.5 L392.6 41.3 L392.8 41.2 L392.9 41.1 L393.1 41.0 L393.2 40.8 L393.4 40.7 L393.5 40.6 L393.7 40.5 L393.8 40.3 L394.0 40.2 L394.2 40.1 L394.3 40.0 L394.5 39.9 L394.6 39.8 L394.8 39.6 L394.9 39.5 L395.1 39.4 L395.2 39.3 L395.4 39.2 L395.6 39.1 L395.7 39.0 L395.9 38.8 L396.0 38.8 M399.2 36.7 L399.3 36.7 L399.4 36.6 L399.6 36.5 L399.7 36.4 L399.9 36.3 L400.0 36.3 L400.2 36.2 L400.4 36.1 L400.5 36.0 L400.7 35.9 L400.8 35.8 L401.0 35.8 L401.1 35.7 L401.3 35.6 L401.4 35.5 L401.6 35.4 L401.8 35.4 L401.9 35.3 L402.1 35.2 L402.2 35.1 L402.4 35.1 L402.5 35.0 L402.7 34.9 L402.8 34.8 L403.0 34.8 L403.1 34.7 L403.3 34.6 L403.5 34.5 L403.6 34.4 L403.8 34.4 L403.9 34.3 L404.1 34.2 L404.2 34.2 L404.4 34.1 L404.5 34.0 L404.7 33.9 L404.9 33.9 L405.0 33.8 L405.2 33.7 L405.3 33.7 L405.5 33.6 L405.6 33.5 M408.9 32.1 L409.0 32.1 L409.2 32.0 L409.3 32.0 L409.5 31.9 L409.7 31.8 L409.8 31.8 L410.0 31.7 L410.1 31.6 L410.3 31.6 L410.4 31.5 L410.6 31.5 L410.8 31.4 L410.9 31.3 L411.1 31.3 L411.2 31.2 L411.4 31.1 L411.5 31.1 L411.7 31.0 L411.9 31.0 L412.0 30.9 L412.2 30.8 L412.3 30.8 L412.5 30.7 L412.7 30.7 L412.8 30.6 L413.0 30.5 L413.1 30.5 L413.3 30.4 L413.4 30.4 L413.6 30.3 L413.8 30.3 L413.9 30.2 L414.1 30.1 L414.2 30.1 L414.4 30.0 L414.5 30.0 L414.7 29.9 L414.8 29.9 L415.0 29.8 L415.1 29.8 L415.3 29.7 L415.4 29.7 M418.7 28.8 L418.8 28.8 L418.9 28.7 L419.0 28.7 L419.2 28.7 L419.3 28.6 L419.4 28.6 L419.6 28.6 L419.7 28.6 L419.8 28.5 L419.9 28.5 L420.1 28.5 L420.2 28.4 L420.3 28.4 L420.5 28.4 L420.6 28.4 L420.7 28.3 L420.9 28.3 L421.0 28.3 L421.1 28.3 L421.3 28.3 L421.4 28.2 L421.5 28.2 L421.7 28.2 L421.8 28.2 L421.9 28.1 L422.1 28.1 L422.2 28.1 L422.4 28.1 L422.5 28.1 L422.6 28.0 L422.8 28.0 L422.9 28.0 L423.1 28.0 L423.2 28.0 L423.3 27.9 L423.5 27.9 L423.6 27.9 L423.7 27.9 L423.9 27.9 L424.0 27.8 L424.2 27.8 L424.3 27.8 L424.4 27.8 L424.6 27.8 L424.7 27.8 L424.8 27.8 L425.0 27.8 L425.1 27.7 L425.2 27.7 L425.3 27.7 M428.7 27.9 L428.8 27.9 L428.9 27.9 L429.0 27.9 L429.1 27.9 L429.2 27.9 L429.3 28.0 L429.4 28.0 L429.5 28.0 L429.7 28.0 L429.8 28.0 L429.9 28.1 L430.0 28.1 L430.1 28.1 L430.2 28.1 L430.3 28.1 L430.4 28.2 L430.5 28.2 L430.7 28.2 L430.8 28.2 L430.9 28.3 L431.0 28.3 L431.1 28.3 L431.2 28.4 L431.3 28.4 L431.4 28.4 L431.6 28.4 L431.7 28.5 L431.8 28.5 L431.9 28.5 L432.0 28.5 L432.1 28.6 L432.2 28.6 L432.3 28.6 L432.4 28.7 L432.5 28.7 L432.6 28.7 L432.7 28.8 L432.8 28.8 L432.9 28.8 L433.0 28.9 L433.1 28.9 L433.3 28.9 L433.4 29.0 L433.5 29.0 L433.6 29.1 L433.7 29.1 L433.8 29.1 L433.9 29.2 L434.0 29.2 L434.1 29.3 L434.3 29.3 L434.4 29.4 L434.5 29.4 L434.6 29.4 L434.7 29.5 L434.9 29.5 L435.0 29.6 L435.1 29.6 L435.2 29.7 M438.5 31.2 L438.7 31.3 L438.9 31.3 L439.1 31.4 L439.2 31.5 L439.4 31.6 L439.6 31.7 L439.8 31.8 L439.9 31.8 L440.1 31.9 L440.2 32.0 L440.4 32.1 L440.5 32.1 L440.7 32.2 L440.8 32.3 L441.0 32.3 L441.1 32.4 L441.2 32.5 L441.3 32.5 L441.4 32.6 L441.5 32.6 L441.6 32.7 L441.7 32.7 " stroke="#5a00c8" stroke-width="2.0"/>
<path class="c" d="M63.0 92.8 L64.5 93.2 L66.0 93.7 L67.5 94.2 L69.0 94.8 L70.5 95.3 L72.0 96.0 L73.5 96.6 L75.0 97.3 L76.5 98.1 L78.0 98.9 L79.5 99.7 L81.0 100.6 L82.5 101.5 L84.0 102.5 L85.5 103.5 L87.0 104.6 L88.5 105.7 L90.0 106.9 L91.5 108.1 L93.0 109.4 L94.5 110.8 L96.0 112.2 L97.5 113.6 L99.0 115.2 L100.5 116.8 L102.0 118.4 L103.5 120.1 L105.0 121.9 L106.5 123.7 L108.0 125.6 L109.5 127.6 L111.0 129.6 L112.5 131.7 L114.0 133.9 L115.5 136.1 L117.0 138.4 L118.5 140.7 L120.0 143.1 L121.5 145.6 L123.0 148.1 L124.5 150.7 L126.0 153.3 L127.5 156.0 L129.0 158.8 L130.5 161.6 L132.0 164.5 L133.5 167.4 L135.0 170.3 L136.5 173.3 L138.0 176.4 L139.5 179.5 L141.0 182.6 L142.5 185.8 L144.0 189.0 L145.5 192.2 L147.0 195.5 L148.5 198.7 L150.0 202.0 L151.5 205.3 L153.0 208.7 L154.5 212.0 L156.0 215.3 L157.5 218.7 L159.0 222.0 L160.5 225.3 L162.0 228.6 L163.5 231.9 L165.0 235.2 L166.5 238.4 L168.0 241.6 L169.5 244.8 L171.0 247.9 L172.5 251.0 L174.0 254.0 L175.5 257.0 L177.0 259.9 L178.5 262.8 L180.0 265.5 L181.5 268.2 L183.0 270.9 L184.5 273.4 L186.0 275.9 L187.5 278.3 L189.0 280.5 L190.5 282.7 L192.0 284.8 L193.5 286.7 L195.0 288.6 L196.5 290.3 L198.0 292.0 L199.5 293.5 L201.0 294.9 L202.5 296.2 L204.0 297.3 L205.5 298.3 L207.0 299.3 L208.5 300.1 L210.0 300.8 L211.5 301.3 L213.0 301.8 L214.5 302.1 L216.0 302.3 L217.5 302.4 L219.0 302.3 L220.5 302.1 L222.0 301.8 L223.5 301.4 L225.0 300.8 L226.5 300.2 L228.0 299.4 L229.5 298.4 L231.0 297.4 L232.5 296.3 L234.0 295.0 L235.5 293.7 L237.0 292.3 L238.5 290.8 L240.0 289.2 L241.5 287.5 L243.0 285.7 L244.5 283.8 L246.0 281.9 L247.5 279.9 L249.0 277.8 L250.5 275.6 L252.0 273.4 L253.5 271.1 L255.0 268.7 L256.5 266.3 L258.0 263.9 L259.5 261.4 L261.0 258.9 L262.5 256.3 L264.0 253.7 L265.5 251.0 L267.0 248.4 L268.5 245.7 L270.0 243.0 L271.5 240.3 L273.0 237.5 L274.5 234.8 L276.0 232.1 L277.5 229.3 L279.0 226.6 L280.5 223.8 L282.0 221.1 L283.5 218.4 L285.0 215.7 L286.5 212.9 L288.0 210.3 L289.5 207.6 L291.0 204.9 L292.5 202.3 L294.0 199.7 L295.5 197.1 L297.0 194.5 L298.5 191.9 L300.0 189.4 L301.5 186.9 L303.0 184.4 L304.5 181.9 L306.0 179.4 L307.5 177.0 L309.0 174.6 L310.5 172.2 L312.0 169.8 L313.5 167.4 L315.0 165.1 L316.5 162.8 L318.0 160.5 L319.5 158.2 L321.0 155.9 L322.5 153.7 L324.0 151.4 L325.5 149.2 L327.0 147.0 L328.5 144.8 L330.0 142.7 L331.5 140.5 L333.0 138.4 L334.5 136.3 L336.0 134.1 L337.5 132.0 L339.0 129.9 L340.5 127.9 L342.0 125.8 L343.5 123.7 L345.0 121.7 L346.5 119.6 L348.0 117.6 L349.5 115.6 L351.0 113.6 L352.5 111.6 L354.0 109.6 L355.5 107.6 L357.0 105.7 L358.5 103.7 L360.0 101.8 L361.5 99.9 L363.0 98.0 L364.5 96.2 L366.0 94.3 L367.5 92.5 L369.0 90.7 L370.5 88.9 L372.0 87.1 L373.5 85.4 L375.0 83.7 L376.5 82.0 L378.0 80.3 L379.5 78.6 L381.0 77.0 L382.5 75.4 L384.0 73.9 L385.5 72.3 L387.0 70.8 L388.5 69.4 L390.0 67.9 L391.5 66.5 L393.0 65.1 L394.5 63.8 L396.0 62.5 L397.5 61.2 L399.0 59.9 L400.5 58.7 L402.0 57.5 L403.5 56.4 L405.0 55.3 L406.5 54.2 L408.0 53.1 L409.5 52.1 L411.0 51.1 L412.5 50.2 L414.0 49.2 L415.5 48.4 L417.0 47.5 L418.5 46.7 L420.0 45.8 L421.5 45.1 L423.0 44.3 L424.5 43.6 L426.0 42.9 L427.5 42.2 L429.0 41.6 L430.5 41.0 L432.0 40.4" stroke="#00e600" stroke-width="1.65"/>
<rect x="53.9" y="17.9" width="387.8" height="297.0" fill="none" stroke="#000" stroke-width="1.3"/>
<path d="M54.3 17.9 v3.0 M54.3 314.9 v-3.0 M62.6 17.9 v3.0 M62.6 314.9 v-3.0 M70.9 17.9 v3.0 M70.9 314.9 v-3.0 M79.2 17.9 v3.0 M79.2 314.9 v-3.0 M87.5 17.9 v6.0 M87.5 314.9 v-6.0 M95.8 17.9 v3.0 M95.8 314.9 v-3.0 M104.1 17.9 v3.0 M104.1 314.9 v-3.0 M112.4 17.9 v3.0 M112.4 314.9 v-3.0 M120.7 17.9 v3.0 M120.7 314.9 v-3.0 M129.0 17.9 v3.0 M129.0 314.9 v-3.0 M137.3 17.9 v3.0 M137.3 314.9 v-3.0 M145.6 17.9 v3.0 M145.6 314.9 v-3.0 M153.9 17.9 v3.0 M153.9 314.9 v-3.0 M162.2 17.9 v3.0 M162.2 314.9 v-3.0 M170.5 17.9 v6.0 M170.5 314.9 v-6.0 M178.8 17.9 v3.0 M178.8 314.9 v-3.0 M187.1 17.9 v3.0 M187.1 314.9 v-3.0 M195.4 17.9 v3.0 M195.4 314.9 v-3.0 M203.7 17.9 v3.0 M203.7 314.9 v-3.0 M212.0 17.9 v3.0 M212.0 314.9 v-3.0 M220.3 17.9 v3.0 M220.3 314.9 v-3.0 M228.6 17.9 v3.0 M228.6 314.9 v-3.0 M236.9 17.9 v3.0 M236.9 314.9 v-3.0 M245.2 17.9 v3.0 M245.2 314.9 v-3.0 M253.5 17.9 v6.0 M253.5 314.9 v-6.0 M261.8 17.9 v3.0 M261.8 314.9 v-3.0 M270.1 17.9 v3.0 M270.1 314.9 v-3.0 M278.4 17.9 v3.0 M278.4 314.9 v-3.0 M286.7 17.9 v3.0 M286.7 314.9 v-3.0 M295.0 17.9 v3.0 M295.0 314.9 v-3.0 M303.3 17.9 v3.0 M303.3 314.9 v-3.0 M311.6 17.9 v3.0 M311.6 314.9 v-3.0 M319.9 17.9 v3.0 M319.9 314.9 v-3.0 M328.2 17.9 v3.0 M328.2 314.9 v-3.0 M336.5 17.9 v6.0 M336.5 314.9 v-6.0 M344.8 17.9 v3.0 M344.8 314.9 v-3.0 M353.1 17.9 v3.0 M353.1 314.9 v-3.0 M361.4 17.9 v3.0 M361.4 314.9 v-3.0 M369.7 17.9 v3.0 M369.7 314.9 v-3.0 M378.0 17.9 v3.0 M378.0 314.9 v-3.0 M386.3 17.9 v3.0 M386.3 314.9 v-3.0 M394.6 17.9 v3.0 M394.6 314.9 v-3.0 M402.9 17.9 v3.0 M402.9 314.9 v-3.0 M411.2 17.9 v3.0 M411.2 314.9 v-3.0 M419.5 17.9 v6.0 M419.5 314.9 v-6.0 M427.8 17.9 v3.0 M427.8 314.9 v-3.0 M436.1 17.9 v3.0 M436.1 314.9 v-3.0 M53.9 25.9 h3.6 M441.7 25.9 h-3.6 M53.9 36.6 h3.6 M441.7 36.6 h-3.6 M53.9 47.3 h7.0 M441.7 47.3 h-7.0 M53.9 58.0 h3.6 M441.7 58.0 h-3.6 M53.9 68.7 h3.6 M441.7 68.7 h-3.6 M53.9 79.4 h3.6 M441.7 79.4 h-3.6 M53.9 90.1 h3.6 M441.7 90.1 h-3.6 M53.9 100.8 h7.0 M441.7 100.8 h-7.0 M53.9 111.5 h3.6 M441.7 111.5 h-3.6 M53.9 122.2 h3.6 M441.7 122.2 h-3.6 M53.9 132.9 h3.6 M441.7 132.9 h-3.6 M53.9 143.6 h3.6 M441.7 143.6 h-3.6 M53.9 154.3 h7.0 M441.7 154.3 h-7.0 M53.9 165.0 h3.6 M441.7 165.0 h-3.6 M53.9 175.7 h3.6 M441.7 175.7 h-3.6 M53.9 186.4 h3.6 M441.7 186.4 h-3.6 M53.9 197.1 h3.6 M441.7 197.1 h-3.6 M53.9 207.8 h7.0 M441.7 207.8 h-7.0 M53.9 218.5 h3.6 M441.7 218.5 h-3.6 M53.9 229.2 h3.6 M441.7 229.2 h-3.6 M53.9 239.9 h3.6 M441.7 239.9 h-3.6 M53.9 250.6 h3.6 M441.7 250.6 h-3.6 M53.9 261.3 h7.0 M441.7 261.3 h-7.0 M53.9 272.0 h3.6 M441.7 272.0 h-3.6 M53.9 282.7 h3.6 M441.7 282.7 h-3.6 M53.9 293.4 h3.6 M441.7 293.4 h-3.6 M53.9 304.1 h3.6 M441.7 304.1 h-3.6 M53.9 314.8 h7.0 M441.7 314.8 h-7.0 " stroke="#000" stroke-width="1.2" fill="none"/>
<text transform="translate(87.6 335.9) scale(1.03 1.02)" text-anchor="middle">3500</text><text transform="translate(170.6 335.9) scale(1.03 1.02)" text-anchor="middle">3600</text><text transform="translate(253.6 335.9) scale(1.03 1.02)" text-anchor="middle">3700</text><text transform="translate(336.6 335.9) scale(1.03 1.02)" text-anchor="middle">3800</text><text transform="translate(419.6 335.9) scale(1.03 1.02)" text-anchor="middle">3900</text>
<text transform="translate(247.4 353.9) scale(1.035 1)" text-anchor="middle" style="word-spacing:1.5px">Rest Wavelength (Å)</text>
<text transform="translate(32.4 234.0) rotate(-90) scale(1.008 1)" style="word-spacing:0.8px">Scaled F<tspan font-size="10.5" dy="3.5">λ</tspan><tspan dy="-3.5"> + constant</tspan></text>
<text transform="translate(416.8 276.7) scale(0.975 1)" text-anchor="end" font-size="15.1" style="word-spacing:1px">SN 2000fa</text>
<text transform="translate(416.8 292.6) scale(0.985 1)" text-anchor="end" font-size="15.1">−8.2</text>
</svg>
</body></html>
